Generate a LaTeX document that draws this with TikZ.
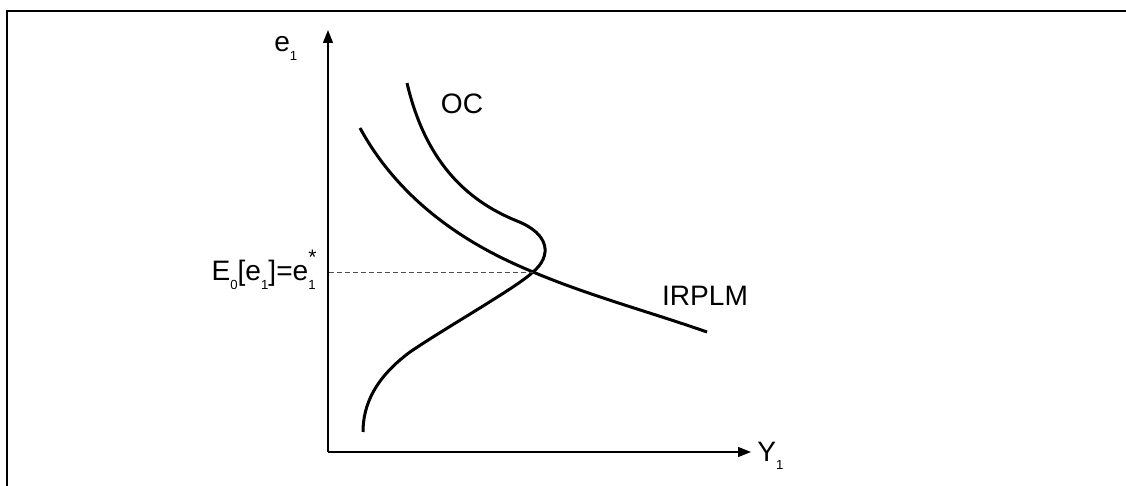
\documentclass[tikz,border=0pt]{standalone}
\usepackage{fontspec}
\setmainfont{Liberation Sans}
\usepackage{tikz}
\usetikzlibrary{arrows.meta,positioning}

\newcommand{\lowidx}[1]{\raisebox{-0.55ex}{\fontsize{7.5}{8}\selectfont #1}}
\newcommand{\staridx}[1]{\rlap{\raisebox{1.1ex}{\fontsize{12}{12}\selectfont *}}\raisebox{-0.55ex}{\fontsize{7.5}{8}\selectfont #1}}

\begin{document}
\begin{tikzpicture}[x=0.2mm, y=-0.2mm, >={Triangle[length=2.6mm,width=2mm]},
  frame/.style={line width=0.45mm},
  axis/.style={line width=0.25mm,->},
  curve/.style={line width=0.6mm},
  guide/.style={line width=0.15mm,dash pattern=on 1mm off 0.6mm,black!70},
  lbl/.style={inner sep=0pt,font=\fontsize{16}{18}\selectfont}]
\useasboundingbox (0,0) rectangle (1126,486);
\draw[frame] (7,486) |- (1126,11);
% axes
\coordinate (O) at (328,452);
\coordinate (ytop) at (328,30);
\coordinate (xend) at (751,452);
\draw[axis] (O)--(ytop);
\draw[axis] (O)--(xend);
\node[lbl,anchor=base west] (elab) at (274,52) {e\lowidx{1}};
\node[lbl,anchor=base west] (ylab) at (757,461) {Y\lowidx{1}};
% curves
\coordinate (eq) at (533,272);
\draw[curve] (360,128) .. controls (410,220) and (500,258) .. (eq)
  .. controls (590,296) and (650,312) .. (707,332);
\draw[curve] (407,83) .. controls (425,160) and (465,200) .. (517,221)
  .. controls (550,234) and (552,256) .. (eq)
  .. controls (516,288) and (445,328) .. (410,352)
  .. controls (375,378) and (363,405) .. (363,432);
\node[lbl] (oc) at (462,104) {OC};
\node[lbl] (irplm) at (705,296) {IRPLM};
% equilibrium
\coordinate (eqaxis) at (329,272);
\draw[guide] (eqaxis)--(eq);
\node[lbl,anchor=base east] (eqlab) at (316,281) {E\lowidx{0}[e\lowidx{1}]=e\staridx{1}};
\end{tikzpicture}
\end{document}
